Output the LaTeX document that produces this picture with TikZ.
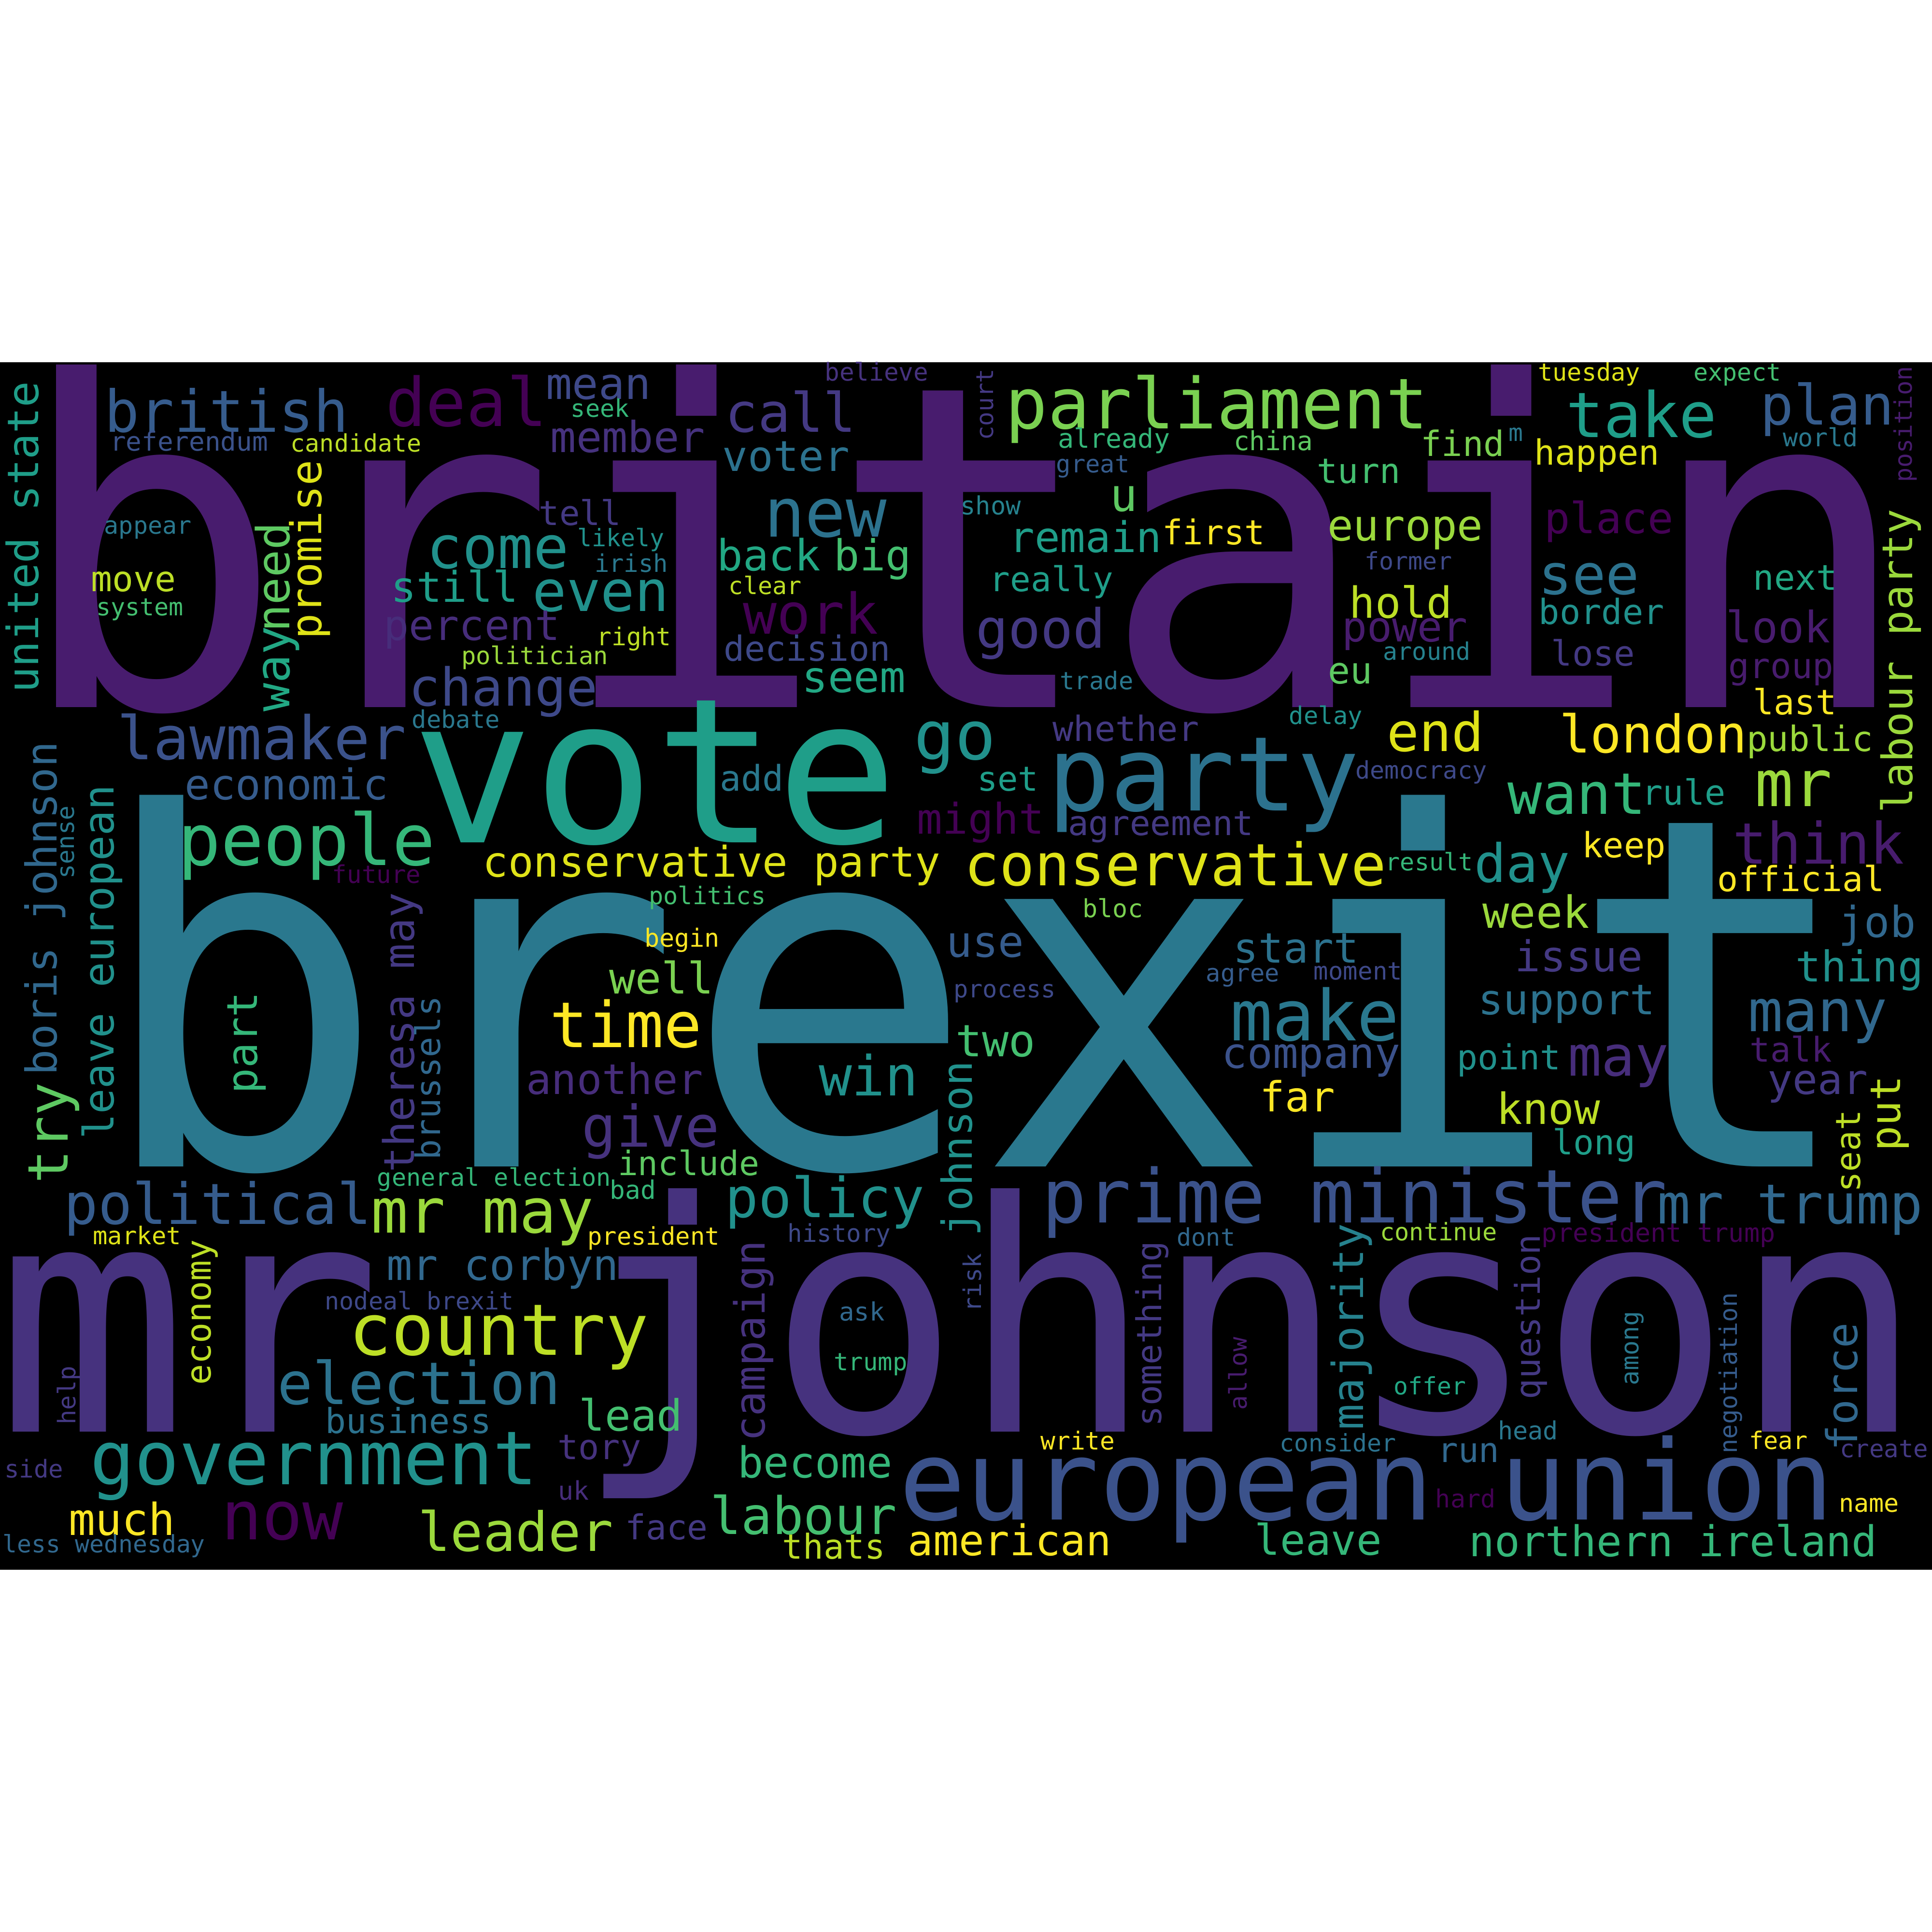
\documentclass[tikz,border=0pt]{standalone}
\usepackage{fontspec}
\newfontfamily\wcf{DejaVu Sans Mono}
\definecolor{c0}{HTML}{440154}
\definecolor{c1}{HTML}{481C6E}
\definecolor{c2}{HTML}{472D7B}
\definecolor{c3}{HTML}{46327E}
\definecolor{c4}{HTML}{443983}
\definecolor{c5}{HTML}{3E4989}
\definecolor{c6}{HTML}{3B528B}
\definecolor{c7}{HTML}{365C8D}
\definecolor{c8}{HTML}{31688E}
\definecolor{c9}{HTML}{2C728E}
\definecolor{c10}{HTML}{2A788E}
\definecolor{c11}{HTML}{26828E}
\definecolor{c12}{HTML}{21918C}
\definecolor{c13}{HTML}{1F9E89}
\definecolor{c14}{HTML}{22A884}
\definecolor{c15}{HTML}{35B779}
\definecolor{c16}{HTML}{44BF70}
\definecolor{c17}{HTML}{5EC962}
\definecolor{c18}{HTML}{7AD151}
\definecolor{c19}{HTML}{9BD93C}
\definecolor{c20}{HTML}{BDDF26}
\definecolor{c21}{HTML}{DFE318}
\definecolor{c22}{HTML}{FDE725}
\tikzset{wordnode/.style={anchor=base,inner sep=0pt,outer sep=0pt}}
\newcounter{wcn}
\newcommand\wcword[6][]{\stepcounter{wcn}\pgfmathsetmacro\wfs{#4*0.28453}\node[wordnode,text=#5,font={\wcf\fontsize{\wfs pt}{\wfs pt}\selectfont},#1] (w\arabic{wcn}) at (#2,#3) {#6};}
\newcommand\vword[5]{\wcword[rotate=90]{#1}{#2}{#3}{#4}{#5}}
\begin{document}
\begin{tikzpicture}[x=0.1mm,y=-0.1mm]
\useasboundingbox (0,0) rectangle (1568,1568);
\fill[white] (0,0) rectangle (1568,1568);
\fill[black] (0,294) rectangle (1568,1274);
% large words
\wcword{782.5}{574}{366}{c1}{britain}
\wcword{793}{947}{397}{c10}{brexit}
\wcword{779.5}{1162}{260}{c3}{mr johnson}
\wcword{531.5}{684}{164}{c13}{vote}
\wcword{977}{658}{84}{c9}{party}
% horizontal words
\wcword{184}{350.7}{47}{c7}{british}
\wcword{153.5}{366}{21.3}{c6}{referendum}
\wcword{289}{366.6}{19.6}{c20}{candidate}
\wcword{120}{433.5}{19.6}{c10}{appear}
\wcword{108.5}{480}{28.6}{c20}{move}
\wcword{113.5}{499.4}{19.6}{c16}{system}
\wcword{212.5}{616.3}{48.7}{c6}{lawmaker}
\wcword{378.5}{345.8}{54.5}{c0}{deal}
\wcword{404}{461}{47.8}{c12}{come}
\wcword{369}{488.8}{34.3}{c13}{still}
\wcword{487.6}{496}{46}{c12}{even}
\wcword{383}{519.6}{34}{c2}{percent}
\wcword{408.5}{572.7}{42.5}{c5}{change}
\wcword{434}{539}{19.8}{c19}{politician}
\wcword{370}{590.8}{19.8}{c10}{debate}
\wcword{485.75}{324.1}{35.4}{c5}{mean}
\wcword{487}{338.5}{19.7}{c15}{seek}
\wcword{509.5}{367}{34.7}{c3}{member}
\wcword{641.75}{350.7}{44}{c4}{call}
\wcword{711.4}{309.2}{20}{c3}{believe}
\wcword{638}{382.5}{34.3}{c9}{voter}
\wcword{470.75}{426.1}{27.7}{c4}{tell}
\wcword{504}{443.5}{19.6}{c12}{likely}
\wcword{512.4}{464.3}{19.8}{c10}{irish}
\wcword{670}{435.7}{55}{c9}{new}
\wcword{624}{463.3}{34.9}{c14}{back}
\wcword{708.25}{463.3}{34.7}{c16}{big}
\wcword{621}{482.4}{19.6}{c20}{clear}
\wcword{658}{514.3}{45.6}{c0}{work}
\wcword{514.5}{523.8}{20.1}{c20}{right}
\wcword{655}{536.6}{28.1}{c5}{decision}
\wcword{693}{562.1}{35}{c14}{seem}
\wcword{987.6}{347.9}{57}{c18}{parliament}
\wcword{904}{363.4}{21.6}{c15}{already}
\wcword{1033.4}{365.5}{21.4}{c17}{china}
\wcword{887}{383.6}{19.8}{c7}{great}
\wcword{1102.75}{392.1}{28.1}{c16}{turn}
\wcword{912}{415.1}{37}{c17}{u}
\wcword{804}{417.6}{20.4}{c11}{show}
\wcword{881}{448.4}{34.3}{c13}{remain}
\wcword{985}{442}{27.7}{c22}{first}
\wcword{853.4}{479.9}{27.8}{c13}{really}
\wcword{844.6}{526}{43.8}{c4}{good}
\wcword{890}{559.5}{19.8}{c10}{trade}
\wcword{913.75}{601.4}{28.2}{c4}{whether}
\wcword{1076}{587.6}{19.8}{c12}{delay}
\wcword{1140.5}{438.8}{35}{c19}{europe}
\wcword{1143}{462.2}{19.6}{c5}{former}
\wcword{1137}{501.5}{34.8}{c20}{hold}
\wcword{1140}{520.7}{33.9}{c1}{power}
\wcword{1158}{535.5}{19.6}{c11}{around}
\wcword{1095.75}{554.7}{30}{c17}{eu}
\wcword{1289.75}{309.2}{19.7}{c21}{tuesday}
\wcword{1410}{309.2}{19.6}{c16}{expect}
\wcword{1332.25}{354.9}{50.9}{c13}{take}
\wcword{1483}{344.9}{45}{c7}{plan}
\wcword{1187}{370.4}{28.3}{c18}{find}
\wcword{1230.4}{358.1}{19.5}{c10}{m}
\wcword{1296}{377.2}{28.2}{c21}{happen}
\wcword{1477.5}{362.3}{20.3}{c10}{world}
\wcword{1305.75}{432.9}{34.8}{c0}{place}
\wcword{1289.75}{482.4}{45.3}{c9}{see}
\wcword{1457}{478.8}{28.4}{c14}{next}
\wcword{1299.75}{506.8}{28.2}{c12}{border}
\wcword{1443.25}{521.7}{35.2}{c1}{look}
\wcword{1293}{540.2}{28.3}{c4}{lose}
\wcword{1445.4}{550.4}{28.4}{c1}{group}
\wcword{1456.6}{580.1}{28.2}{c22}{last}
\wcword{1341.6}{611}{42.2}{c22}{london}
\wcword{1468.9}{609.9}{28.4}{c19}{public}
\wcword{1165}{609.9}{43.5}{c21}{end}
\wcword{775}{616.3}{55}{c12}{go}
\wcword{232.5}{649.1}{34.3}{c7}{economic}
\wcword{248.75}{702.3}{57.8}{c15}{people}
\wcword{305.6}{716.7}{19.9}{c0}{future}
\wcword{610.25}{641.7}{28.7}{c10}{add}
\wcword{796}{676.8}{34.3}{c0}{might}
\wcword{577.6}{711.8}{34.3}{c21}{conservative party}
\wcword{574}{734.1}{19.7}{c16}{politics}
\wcword{553.5}{768.6}{20.3}{c22}{begin}
\wcword{536.75}{806.4}{35.2}{c18}{well}
\wcword{507.9}{850}{51.3}{c22}{time}
\wcword{498.9}{888.2}{34.1}{c2}{another}
\wcword{704.9}{889.3}{44.8}{c12}{win}
\wcword{528.25}{930.7}{46.5}{c3}{give}
\wcword{558.9}{954}{27.3}{c17}{include}
\wcword{799.6}{776.6}{34.9}{c7}{use}
\wcword{815.5}{809.6}{19.7}{c5}{process}
\wcword{818}{641.7}{27.6}{c13}{set}
\wcword{942.1}{677.8}{27.8}{c4}{agreement}
\wcword{1153.5}{632.2}{19.7}{c5}{democracy}
\wcword{954}{718.8}{47.4}{c21}{conservative}
\wcword{1160}{706.5}{19.6}{c15}{result}
\wcword{903.1}{744.4}{20.3}{c18}{bloc}
\wcword{1051.9}{781.3}{33.8}{c9}{start}
\wcword{1008.6}{796.8}{19.8}{c7}{agree}
\wcword{1102.1}{795.3}{19.9}{c5}{moment}
\wcword{1067.1}{844.6}{57}{c10}{make}
\wcword{1064}{867}{34.4}{c6}{company}
\wcword{808}{857.4}{36}{c16}{two}
\wcword{1053.1}{902}{33.7}{c22}{far}
\wcword{1279.75}{660.8}{46.5}{c15}{want}
\wcword{1366.6}{653.4}{28.2}{c13}{rule}
\wcword{1455.6}{654.4}{52}{c19}{mr}
\wcword{1235.4}{716.1}{43}{c12}{day}
\wcword{1317.9}{695.9}{28.2}{c22}{keep}
\wcword{1476}{701.2}{46.3}{c1}{think}
\wcword{1461.6}{723.5}{28.1}{c22}{official}
\wcword{1246.6}{753.3}{36}{c19}{week}
\wcword{1523.5}{760.7}{34.7}{c8}{job}
\wcword{1281.6}{788.3}{34.5}{c4}{issue}
\wcword{1509.1}{796.8}{34.5}{c12}{thing}
\wcword{1271.6}{823.4}{34.1}{c9}{support}
\wcword{1475.4}{837.2}{47}{c8}{many}
\wcword{1224.75}{868}{28}{c12}{point}
\wcword{1313.5}{873.3}{45.3}{c2}{may}
\wcword{1453.5}{861.6}{27.7}{c1}{talk}
\wcword{1475.4}{888.2}{33.8}{c4}{year}
\wcword{1256.6}{912.2}{34.9}{c20}{know}
\wcword{1293.9}{937.1}{28}{c13}{long}
\wcword{176.75}{993.6}{46}{c7}{political}
\wcword{401}{962.4}{19.7}{c15}{general election}
\wcword{391.6}{1000.6}{50}{c19}{mr may}
\wcword{111.25}{1009.8}{19.8}{c21}{market}
\wcword{407.9}{1038.9}{34.8}{c8}{mr corbyn}
\wcword{340.4}{1062.9}{19.6}{c5}{nodeal brexit}
\wcword{404.75}{1099.9}{57.7}{c20}{country}
\wcword{340.1}{1139.8}{47.7}{c9}{election}
\wcword{331.6}{1163.2}{28}{c9}{business}
\wcword{254.75}{1204.6}{60.4}{c12}{government}
\wcword{27.5}{1199.3}{19.9}{c4}{side}
\wcword{99.1}{1246.1}{35.8}{c22}{much}
\wcword{229.1}{1249.3}{54.8}{c0}{now}
\wcword{84.4}{1259.9}{19.5}{c8}{less wednesday}
\wcword{418.5}{1258.8}{43.9}{c19}{leader}
\wcword{513.6}{973}{20.7}{c15}{bad}
\wcword{530.4}{1010.2}{19.8}{c22}{president}
\wcword{669.5}{987.9}{44.8}{c12}{policy}
\wcword{681.1}{1008.1}{19.9}{c5}{history}
\wcword{699.5}{1071.8}{20.5}{c8}{ask}
\wcword{706.6}{1112.2}{19.8}{c15}{trump}
\wcword{512}{1161.1}{35}{c16}{lead}
\wcword{486.4}{1184.5}{28.2}{c3}{tory}
\wcword{465.5}{1217.4}{20.9}{c2}{uk}
\wcword{661.5}{1199.3}{34.7}{c15}{become}
\wcword{541}{1249.3}{27.9}{c4}{face}
\wcword{652.25}{1245}{42}{c16}{labour}
\wcword{676.75}{1265.2}{27.8}{c20}{thats}
\wcword{819.5}{1262.6}{34.3}{c22}{american}
\wcword{1099.4}{992.2}{60.2}{c6}{prime minister}
\wcword{978.75}{1011.3}{19.7}{c8}{dont}
\wcword{1167.5}{1007}{19.7}{c19}{continue}
\wcword{1160.6}{1131.8}{19.5}{c14}{offer}
\wcword{874.75}{1176.4}{20.1}{c22}{write}
\wcword{1085.9}{1178.1}{19.6}{c9}{consider}
\wcword{1191.9}{1186.6}{27.8}{c8}{run}
\wcword{1109}{1233.3}{90}{c6}{european union}
\wcword{1070}{1262}{34.3}{c15}{leave}
\wcword{1189.4}{1223.8}{20.3}{c0}{hard}
\wcword{1452.9}{993.2}{44.7}{c8}{mr trump}
\wcword{1346}{1008.1}{21}{c0}{president trump}
\wcword{1240.1}{1168.5}{20.3}{c10}{head}
\wcword{1443.25}{1176}{19.7}{c22}{fear}
\wcword{1529.1}{1182.8}{19.9}{c4}{create}
\wcword{1516.9}{1227}{20.3}{c22}{name}
\wcword{1357.9}{1263.1}{34.4}{c15}{northern ireland}
% vertical words
\vword{31}{436}{35}{c13}{united state}
\vword{235}{468.5}{37}{c17}{need}
\vword{235}{543}{38.5}{c14}{way}
\vword{261}{446}{34.5}{c21}{promise}
\vword{806}{328.4}{19.3}{c4}{court}
\vword{1551.75}{344.3}{19.6}{c1}{position}
\vword{1552}{536.5}{34.2}{c19}{labour party}
\vword{46.25}{737.4}{34.6}{c8}{boris johnson}
\vword{60}{683.6}{19.7}{c10}{sense}
\vword{55}{919.5}{45.3}{c17}{try}
\vword{92.5}{780.9}{34.1}{c12}{leave european}
\vword{208.75}{846.3}{34.3}{c15}{part}
\vword{336.25}{838}{34.3}{c4}{theresa may}
\vword{357.5}{874.9}{27.6}{c8}{brussels}
\vword{789}{932.2}{33.7}{c12}{johnson}
\vword{1509.75}{934.3}{27.7}{c20}{seat}
\vword{1542.25}{903.6}{34}{c20}{put}
\vword{171.25}{1065}{28}{c20}{economy}
\vword{61.25}{1132.4}{19.8}{c4}{help}
\vword{620.75}{1088.4}{33.9}{c3}{campaign}
\vword{796.5}{1041}{19.8}{c5}{risk}
\vword{942.75}{1082.5}{27.8}{c4}{something}
\vword{1106.5}{1076.6}{34.8}{c11}{majority}
\vword{1012}{1114.9}{19.7}{c1}{allow}
\vword{1249.75}{1068.7}{27.8}{c4}{question}
\vword{1329.75}{1094.2}{20}{c10}{among}
\vword{1409.75}{1114.4}{19.7}{c7}{negotiation}
\vword{1507.25}{1125.5}{34.5}{c8}{force}
\end{tikzpicture}
\end{document}
